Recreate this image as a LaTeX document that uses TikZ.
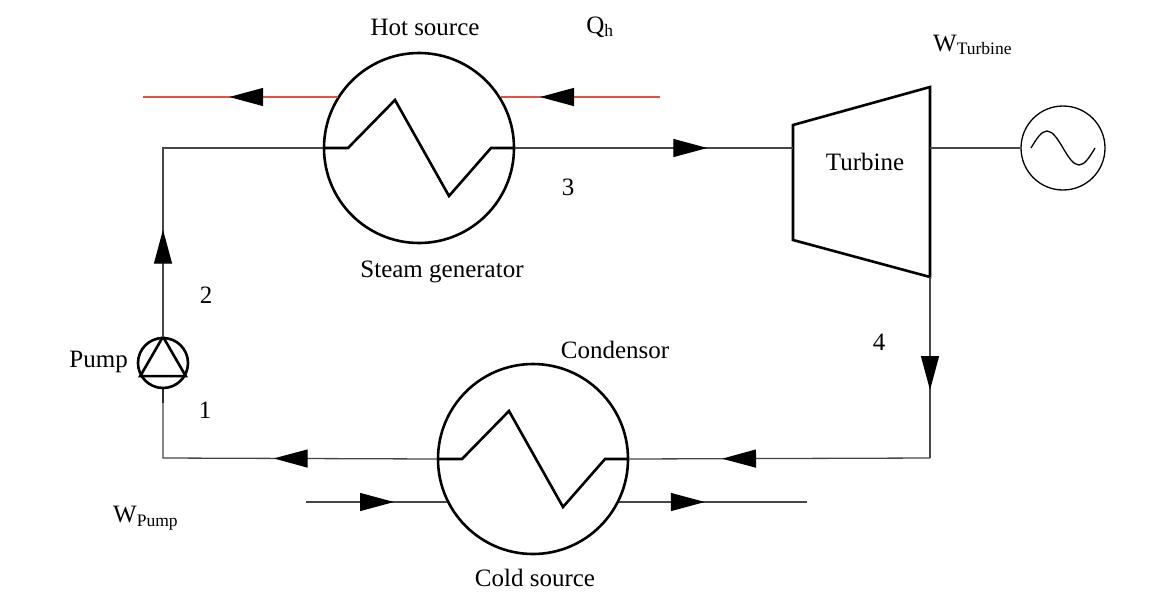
\documentclass[tikz,border=0pt]{standalone}
\usepackage{fontspec}
\setmainfont{Liberation Serif}
\usetikzlibrary{arrows.meta, positioning, calc, decorations.markings}

\definecolor{hotline}{RGB}{226,82,62}
\definecolor{pipegray}{RGB}{70,70,70}

\begin{document}
\begin{tikzpicture}[
  x=1pt, y=-1pt,
  pipe/.style = {line width=1.3pt, draw=pipegray},
  hot/.style = {line width=1.3pt, draw=hotline},
  hx/.style = {circle, draw, line width=2.6pt, minimum size=190pt, inner sep=0pt},
  coil/.style = {line width=2.6pt, line join=miter},
  lbl/.style = {font=\fontsize{25}{30}\selectfont, inner sep=0pt},
  flow/.style = {postaction={decorate}, decoration={markings,
    mark=at position #1 with {\arrow{Triangle[length=34pt,width=18pt,color=black]}}}}
]
\useasboundingbox (0,0) rectangle (1158,592);

% Heat exchangers
\node[hx] (sg) at (419,148) {};
\node[hx] (cond) at (533,459) {};
\foreach \hx in {sg, cond}
  \draw[coil] ($(\hx.center)+(-95,0)$) -- ++(24,0) -- ++(47,-48)
    -- ++(54,96) -- ++(42,-48) -- ++(23,0);

% Pump
\node[circle, draw, line width=2.6pt, minimum size=50pt, inner sep=0pt] (pump) at (163,363) {};
\draw[line width=2.6pt, line join=miter] (pump.90) -- (pump.210) -- (pump.330) -- cycle;
\draw[line width=2.6pt] (pump.north) -- ++(0,-12);
\draw[line width=2.6pt] (pump.south) -- ++(0,14);

% Turbine
\draw[line width=2.6pt, line join=miter] (793,125) -- (930,87) -- (930,277) -- (793,240) -- cycle;
\node[lbl] (turb) at (865,162) {Turbine};
\coordinate (tin) at (793,148);
\coordinate (tout) at (930,277);
\coordinate (tshaft) at (930,148);

% Generator
\node[circle, draw, line width=1.3pt, minimum size=84pt, inner sep=0pt] (gen) at (1063,148) {};
\draw[line width=1.3pt] ($(gen.center)+(-32,0)$) sin ++(16,-17) cos ++(16,17)
  sin ++(16,17) cos ++(16,-17);
\draw[pipe] (tshaft) -- (gen.west);

% Corners and free ends
\coordinate (c1) at (163,458);
\coordinate (c2) at (163,148);
\coordinate (c4) at (930,458);
\coordinate (hotend) at (143,97);
\coordinate (hotstart) at (660,97);
\coordinate (coldstart) at (306,502);
\coordinate (coldend) at (807,502);

% Hot source
\draw[hot, flow=120pt] (hotstart) -- (hotstart -| sg.32.5);
\draw[hot, flow=109pt] (hotend -| sg.147.5) -- (hotend);

% Cycle
\draw[pipe, flow=107pt] (pump.north) -- (c2) -- (sg.west);
\draw[pipe, flow=192pt] (sg.east) -- (tin);
\draw[pipe, flow=113pt] (tout) -- (c4);
\draw[pipe, flow=208pt] (c4) -- (cond.east);
\draw[pipe, flow=163pt] (cond.west) -- (c1) -- (pump.south);

% Cold source
\draw[pipe, flow=88pt] (coldstart) -- (coldstart -| cond.207);
\draw[pipe, flow=86pt] (coldend -| cond.-27) -- (coldend);

% Labels
\node[lbl] (hotlbl) at (425,27) {Hot source};
\node[lbl] (qh) at (600,27) {Q\textsubscript{h}};
\node[lbl, anchor=west] (wturb) at (933,45) {W\textsubscript{Turbine}};
\node[lbl] (sglbl) at (442,272) {Steam generator};
\node[lbl] (p3) at (568,187) {3};
\node[lbl] (p2) at (206,295) {2};
\node[lbl] (p1) at (205,410) {1};
\node[lbl] (p4) at (879,342) {4};
\node[lbl, anchor=east] (pumplbl) at (128,362) {Pump};
\node[lbl] (condlbl) at (615,350) {Condensor};
\node[lbl] (coldlbl) at (535,578) {Cold source};
\node[lbl, anchor=west] (wpump) at (113,518) {W\textsubscript{Pump}};

\end{tikzpicture}
\end{document}
